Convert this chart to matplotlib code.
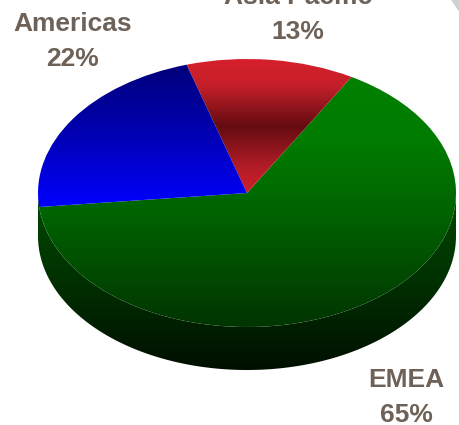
import numpy as np
import matplotlib
matplotlib.use("Agg")
import matplotlib.pyplot as plt
from matplotlib.path import Path
from matplotlib.patches import PathPatch, Polygon
from matplotlib.transforms import Affine2D
from matplotlib.colors import LinearSegmentedColormap

regions = ["EMEA", "Asia Pacific", "Americas"]
shares = [65, 13, 22]

cx, cy = 247, 193
rx, ry = 209, 134
depth = 43
start = 186

text_col = "#6e6258"
grads = {
    "EMEA": [(0, "#008000"), (0.25, "#007c00"), (0.55, "#006300"), (1, "#003400")],
    "Asia Pacific": [(0, "#d6202c"), (0.2, "#c41f2a"), (0.5, "#640c10"), (0.8, "#b21c26"), (1, "#ce1f2b")],
    "Americas": [(0, "#000078"), (0.5, "#0000b4"), (1, "#0000ff")],
}
spans = {"EMEA": (76, 327), "Asia Pacific": (59, 193), "Americas": (62, 208)}

fig = plt.figure(figsize=(4.6, 4.25), dpi=100, facecolor="white")
ax = fig.add_axes([0, 0, 1, 1])
ax.set_xlim(0, 460)
ax.set_ylim(425, 0)
ax.axis("off")


def fill_gradient(patch_path, stops, y0, y1, transform=None):
    cmap = LinearSegmentedColormap.from_list("g", stops)
    grad = np.linspace(0, 1, 256).reshape(-1, 1)
    im = ax.imshow(grad, cmap=cmap, extent=(0, 460, y1, y0), aspect="auto", zorder=2,
                   interpolation="bilinear")
    patch = PathPatch(patch_path, transform=transform or ax.transData, fc="none", ec="none")
    ax.add_patch(patch)
    im.set_clip_path(patch)


# pie rim, lower half of the ellipse pushed down by the depth
t = np.radians(np.linspace(180, 360, 200))
xs = cx + rx * np.cos(t)
ys = cy - ry * np.sin(t)
rim = np.concatenate([np.column_stack([xs, ys]), np.column_stack([xs, ys + depth])[::-1]])
fill_gradient(Path(np.vstack([rim, rim[:1]]), closed=True), [(0, "#004a00"), (0.5, "#003000"), (1, "#000f00")], 193, 370)

# top face
to_pie = Affine2D().scale(rx, -ry).translate(cx, cy) + ax.transData
angle = start
for name, share in zip(regions, shares):
    sweep = share / sum(shares) * 360
    wedge = Path.wedge(angle, angle + sweep)
    y0, y1 = spans[name]
    fill_gradient(wedge, grads[name], y0, y1, transform=to_pie)
    angle += sweep

ax.set_xlim(0, 460)
ax.set_ylim(425, 0)

label_pos = {"EMEA": (406, 380), "Asia Pacific": (298, -3), "Americas": (73, 24)}
for name, share in zip(regions, shares):
    x, y = label_pos[name]
    ax.text(x, y, name, ha="center", va="center", color=text_col, fontsize=19,
            fontweight="bold", family="Liberation Sans", zorder=5, clip_on=False)
    ax.text(x, y + 35, f"{share}%", ha="center", va="center", color=text_col,
            fontsize=19, fontweight="bold", family="Liberation Sans", zorder=5, clip_on=False)

# grey corner at the top right
ax.add_patch(Polygon([[451, 0], [460, 0], [460, 13]], closed=True, fc="#d0d0d0", ec="none", zorder=3))

fig.savefig("out.png", dpi=100, facecolor="white")
